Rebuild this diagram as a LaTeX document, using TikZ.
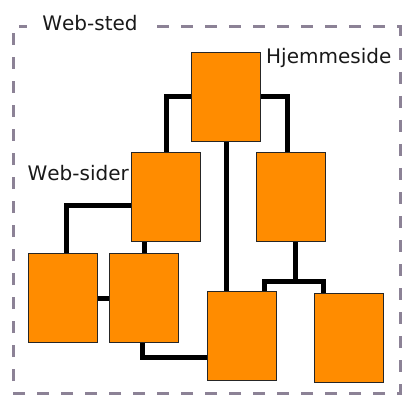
\documentclass[tikz,border=0pt]{standalone}
\usepackage{fontspec}
\setmainfont[Kerning=Off]{DejaVu Sans}
\usetikzlibrary{calc}

\definecolor{pageorange}{RGB}{255,140,0}
\definecolor{sitegrey}{RGB}{140,130,150}

\begin{document}
\begin{tikzpicture}[
                x=1pt,y=-1pt,
                every node/.style={font=\fontsize{20}{24}\selectfont,text=black!90},
                pagebox/.style={draw=black!85,line width=1.2pt,fill=pageorange,
                                minimum width=69pt,minimum height=89pt,inner sep=0pt},
                link/.style={line width=5pt}] %

\useasboundingbox (0,0) rectangle (403,395);

% web site
\draw[sitegrey,line width=3pt,dash pattern=on 12pt off 12pt]
  (157,27) -- (400,27) -- (400,393) -- (13,393) -- (13,27) -- (27,27);
\node[inner sep=0pt] (SITE) at (90,23) {Web-sted};

                    % 1
                    \node[pagebox] (HOME) at (226,97) {};
                    \node[anchor=west,inner sep=0pt] (HOMEL) at (266,58) {Hjemmeside};

                    % 2
                    \node[pagebox] (SIDER) at (166,197) {};
                    \node[pagebox] (RIGHT) at (291,197) {};
                    \node[anchor=east,inner sep=0pt] (SIDERL) at (129,173) {Web-sider};

                    % 3
                    \node[pagebox] (LA) at (63,298) {};
                    \node[pagebox] (LB) at (144,298) {};
                    \node[pagebox] (MC) at (242,336) {};
                    \node[pagebox] (RD) at (349,338) {};

%%%%%%%%%%%%%%%%%%%%%%%%%%%%%%%%%%%%%%%%%%%%%%%%%%%%%%%%%%%%%%%%%%%%%%%%%%%%%%%%%%%%

% links
\draw[link] (HOME.west) -| (SIDER.north);
\draw[link] (HOME.east) -| ([xshift=-4pt]RIGHT.north);
\draw[link] (HOME.south) -- (HOME.south |- MC.north);

\draw[link] ([yshift=-8pt]SIDER.west) -| ([xshift=3pt]LA.north);
\draw[link] (LB.north |- SIDER.south) -- (LB.north);
\draw[link] (LA.east) -- (LB.west);
\draw[link] ([xshift=-2pt]LB.south) |- ([yshift=-21pt]MC.west);

\coordinate (FORK) at (295,281);
\draw[link] (RIGHT.south -| FORK) -- (FORK);
\draw[link] ([xshift=22pt]MC.north) |- (FORK) -| ([xshift=-26pt]RD.north);

\end{tikzpicture}
\end{document}
